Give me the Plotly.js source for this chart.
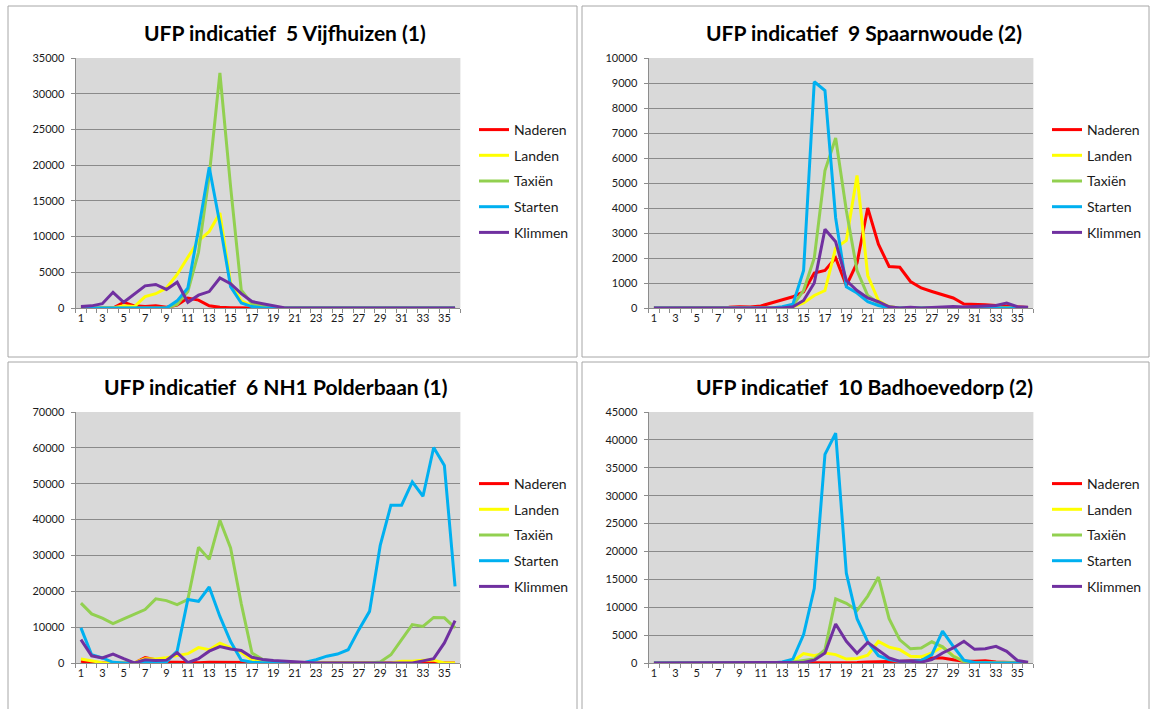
<!DOCTYPE html>
<html>
<head>
<meta charset="utf-8">
<script src="https://cdn.plot.ly/plotly-3.0.1.min.js"></script>
<style>html,body{margin:0;padding:0;background:#fff;}#chart{width:1152px;height:709px;}</style>
</head>
<body>
<div id="chart"></div>
<script>
// ---- data ----
const categories = [1,2,3,4,5,6,7,8,9,10,11,12,13,14,15,16,17,18,19,20,21,22,23,24,25,26,27,28,29,30,31,32,33,34,35,36];
const xTickVals = [1,3,5,7,9,11,13,15,17,19,21,23,25,27,29,31,33,35];
const xTickText = ['1','3','5','7','9','11','13','15','17','19','21','23','25','27','29','31','33','35'];
const seriesNames = ['Naderen','Landen','Taxiën','Starten','Klimmen'];

const titles = [
  'UFP indicatief \u00a05 Vijfhuizen (1)',
  'UFP indicatief \u00a09 Spaarnwoude (2)',
  'UFP indicatief \u00a06 NH1 Polderbaan (1)',
  'UFP indicatief \u00a010 Badhoevedorp (2)'
];

// Panel 1: 5 Vijfhuizen (1)
const vijf_naderen = [0,0,0,0,800,300,200,300,100,400,1400,1100,300,100,50,0,0,0,0,0,0,0,0,0,0,0,0,0,0,0,0,0,0,0,0,0];
const vijf_landen  = [0,0,0,0,300,200,1600,2000,2800,4700,7100,9400,10700,13300,3500,1000,300,100,0,0,0,0,0,0,0,0,0,0,0,0,0,0,0,0,0,0];
const vijf_taxien  = [0,0,0,0,0,0,0,0,0,500,2300,7800,18500,32900,17000,2500,600,300,100,0,0,0,0,0,0,0,0,0,0,0,0,0,0,0,0,0];
const vijf_starten = [0,0,0,0,0,0,0,0,0,1000,2800,11000,19700,11800,3000,700,200,0,0,0,0,0,0,0,0,0,0,0,0,0,0,0,0,0,0,0];
const vijf_klimmen = [200,300,600,2200,800,1900,3100,3300,2600,3600,800,1800,2300,4200,3400,2000,900,600,300,50,0,0,0,0,0,0,0,0,0,0,0,0,0,0,0,0];

// Panel 2: 9 Spaarnwoude (2)
const spaa_naderen = [0,0,0,0,0,30,20,30,50,40,80,200,350,450,650,1400,1500,2000,900,1800,4000,2550,1660,1630,1060,800,660,530,400,160,160,130,100,70,40,25];
const spaa_landen  = [0,0,0,0,0,0,0,0,0,0,0,0,0,50,200,500,700,2400,2700,5300,1300,300,50,0,0,0,0,0,0,0,0,0,0,0,0,0];
const spaa_taxien  = [0,0,0,0,0,0,0,0,0,0,0,0,0,100,700,2000,5500,6800,3900,1500,500,200,50,0,0,0,0,0,0,0,0,0,0,0,0,0];
const spaa_starten = [0,0,0,0,0,0,0,0,0,0,0,0,50,150,1500,9050,8700,3600,850,600,250,100,0,0,0,0,0,0,0,0,0,0,0,0,0,0];
const spaa_klimmen = [0,0,0,0,0,0,0,0,0,0,0,0,0,50,300,1000,3150,2650,1100,700,400,250,50,0,30,0,20,40,60,40,50,80,100,200,50,30];

// Panel 3: 6 NH1 Polderbaan (1)
const pold_naderen = [500,100,0,0,0,0,1500,1000,300,200,100,100,200,200,100,50,0,0,0,0,0,0,0,0,0,0,0,0,0,0,0,0,300,100,0,0];
const pold_landen  = [1100,500,100,0,0,100,1200,1100,1500,2000,2600,4300,3700,5500,4200,3000,800,300,100,0,0,0,0,0,0,0,0,0,0,0,500,500,800,800,0,0];
const pold_taxien  = [16700,13700,12500,11000,12300,13500,14900,17900,17400,16300,17700,32300,28900,39800,32100,16500,2800,1000,500,300,100,0,0,0,0,0,0,0,300,2300,6500,10700,10200,12700,12600,9800];
const pold_starten = [9800,2300,1400,200,0,0,300,200,300,3300,17700,17200,21200,13000,6000,800,200,100,100,300,100,200,900,1900,2500,3700,9300,14400,32800,44000,44000,50500,46500,60100,55100,21400];
const pold_klimmen = [6500,2000,1400,2500,1200,0,900,700,800,2900,100,1200,3300,4600,3900,3500,1600,1000,700,500,300,100,0,0,0,0,0,0,0,0,0,0,600,1200,5600,11800];

// Panel 4: 10 Badhoevedorp (2)
const badh_naderen = [0,0,0,0,0,0,0,100,100,100,0,0,0,0,0,0,50,100,100,100,200,200,300,300,400,500,900,900,600,300,300,400,200,100,50,0];
const badh_landen  = [0,0,0,0,0,0,0,0,0,0,0,0,0,300,1700,1300,1800,1500,700,800,1400,3850,2850,2400,1200,1100,1800,2900,1300,300,0,0,0,0,0,0];
const badh_taxien  = [0,0,0,0,0,0,0,0,0,0,0,0,0,200,500,700,2400,11500,10700,9400,12000,15400,7950,4150,2550,2700,3800,2900,1200,300,0,0,0,0,0,0];
const badh_starten = [0,0,0,0,0,0,0,0,0,0,0,0,200,700,5100,13400,37400,41200,16100,7950,3800,1300,600,300,300,450,1500,5700,3000,500,100,0,0,0,0,0];
const badh_klimmen = [0,0,0,0,0,0,0,0,0,0,0,0,0,0,100,500,1800,7000,3900,1750,3700,2300,900,300,300,150,600,1800,2700,3900,2450,2550,3000,2100,450,150];

const panels = [
  {series:[vijf_naderen,vijf_landen,vijf_taxien,vijf_starten,vijf_klimmen], ymax:35000, dtick:5000},
  {series:[spaa_naderen,spaa_landen,spaa_taxien,spaa_starten,spaa_klimmen], ymax:10000, dtick:1000},
  {series:[pold_naderen,pold_landen,pold_taxien,pold_starten,pold_klimmen], ymax:70000, dtick:10000},
  {series:[badh_naderen,badh_landen,badh_taxien,badh_starten,badh_klimmen], ymax:45000, dtick:5000}
];

// ---- styling / layout ----
const colors = ['#ff0000','#ffff00','#92d050','#00b0f0','#7030a0'];
const W = 1152, H = 709;
const px = v => v / W;
const py = v => (H - v) / H;
const FONT = 'Lato, "Open Sans", sans-serif';

// pixel geometry of each panel: plot area and frame
const geom = [
  {pl:75.6, pr:460.4, pt:58, pb:308, fx0:8, fx1:577, fy0:6, fy1:357, tx:285, ty:32, lx:474, ly:114},
  {pl:648.6, pr:1033.4, pt:58, pb:308, fx0:582, fx1:1149, fy0:6, fy1:357, tx:864, ty:32, lx:1047, ly:114},
  {pl:75.6, pr:460.4, pt:412, pb:663, fx0:8, fx1:577, fy0:362, fy1:712, tx:276, ty:386, lx:474, ly:468},
  {pl:648.6, pr:1033.4, pt:412, pb:663, fx0:582, fx1:1149, fy0:362, fy1:712, tx:864, ty:386, lx:1047, ly:468}
];

const traces = [];
const layout = {
  width: W, height: H,
  margin: {l:0, r:0, t:0, b:0},
  paper_bgcolor: '#ffffff',
  plot_bgcolor: '#d9d9d9',
  font: {family: FONT, color: '#1a1a1a'},
  showlegend: true,
  shapes: [],
  annotations: []
};

panels.forEach((p, i) => {
  const g = geom[i];
  const n = i === 0 ? '' : String(i + 1);
  const xa = 'x' + n, ya = 'y' + n;
  const legName = 'legend' + n;
  p.series.forEach((vals, s) => {
    traces.push({
      type: 'scatter', mode: 'lines',
      x: categories, y: vals,
      name: seriesNames[s],
      xaxis: xa, yaxis: ya,
      legend: legName,
      legendgroup: 'p' + i + 's' + s,
      line: {color: colors[s], width: 3},
      hoverinfo: 'x+y+name'
    });
  });
  layout['xaxis' + n] = {
    domain: [px(g.pl), px(g.pr)],
    anchor: ya,
    range: [0.5, 36.5],
    tickmode: 'array', tickvals: xTickVals, ticktext: xTickText,
    ticks: '', showgrid: false, zeroline: false,
    showline: true, linecolor: '#8c8c8c', linewidth: 1,
    tickfont: {family: FONT, size: 11, color: '#1a1a1a'},
    minor: {tick0: 0.5, dtick: 1, ticks: 'outside', ticklen: 4, tickcolor: '#8c8c8c', showgrid: false},
    fixedrange: true
  };
  layout['yaxis' + n] = {
    domain: [py(g.pb), py(g.pt)],
    anchor: xa,
    range: [0, p.ymax], dtick: p.dtick, tick0: 0,
    tickformat: 'd',
    showgrid: true, gridcolor: '#8a8a8a', gridwidth: 1.3,
    zeroline: false,
    showline: true, linecolor: '#8c8c8c', linewidth: 1,
    ticks: 'outside', ticklen: 4, tickcolor: '#8c8c8c',
    tickfont: {family: FONT, size: 11, color: '#1a1a1a'},
    ticklabelstandoff: 4,
    fixedrange: true
  };
  layout[legName] = {
    x: px(g.lx), y: py(g.ly), xanchor: 'left', yanchor: 'top',
    bgcolor: 'rgba(0,0,0,0)', borderwidth: 0,
    font: {family: FONT, size: 14, color: '#1a1a1a'},
    traceorder: 'grouped', tracegroupgap: 4.5,
    itemclick: false, itemdoubleclick: false
  };
  layout.shapes.push({
    type: 'rect', xref: 'paper', yref: 'paper',
    x0: px(g.fx0), x1: px(g.fx1), y0: py(g.fy1), y1: py(g.fy0),
    line: {color: '#a6a6a6', width: 1}, fillcolor: 'rgba(0,0,0,0)', layer: 'below'
  });
  layout.annotations.push({
    xref: 'paper', yref: 'paper', x: px(g.tx), y: py(g.ty),
    xanchor: 'center', yanchor: 'middle', showarrow: false,
    text: '<b>' + titles[i] + '</b>',
    font: {family: FONT, size: 21, color: '#000000'}
  });
});

Plotly.newPlot('chart', traces, layout, {displayModeBar: false, staticPlot: false});
</script>
</body>
</html>
